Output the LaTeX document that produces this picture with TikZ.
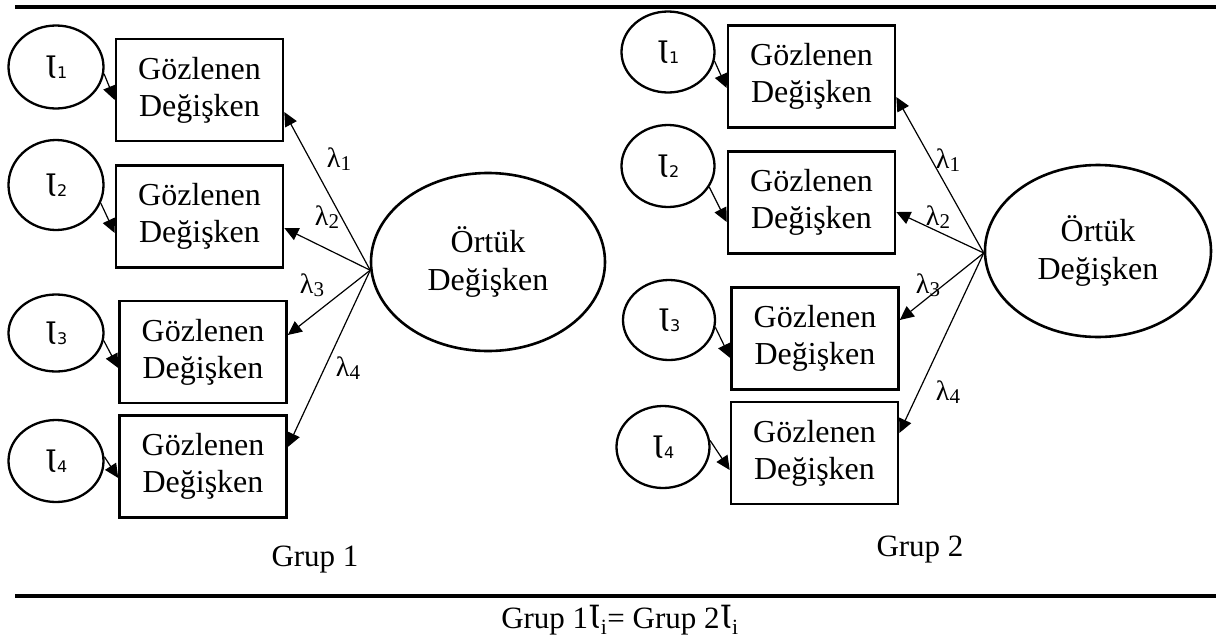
\documentclass[tikz,border=0pt]{standalone}
\usepackage{fontspec}
\setmainfont{Liberation Serif}
\newfontfamily\iotafont{DejaVu Serif}
\newfontfamily\digitfont{DejaVu Sans}
\usetikzlibrary{arrows.meta,shapes.geometric}
\newcommand{\tlab}[1]{{\iotafont\fontsize{31}{31}\selectfont Ɩ\digitfont\fontsize{16}{16}\selectfont #1}}
\newcommand{\llab}[1]{{\fontsize{28}{28}\selectfont λ\raisebox{-3pt}{\fontsize{21}{21}\selectfont #1}}}
\begin{document}
\begin{tikzpicture}[x=1pt,y=-1pt,
  obs/.style={draw, line width=2.6pt, minimum width=167pt, minimum height=102pt, inner sep=0pt, align=center, font=\fontsize{32}{37}\selectfont},
  err/.style={draw, ellipse, line width=2.3pt, minimum width=95pt, inner sep=0pt},
  lat/.style={draw, ellipse, line width=2.6pt, inner sep=0pt, align=center, font=\fontsize{32}{38}\selectfont},
  load/.style={-{Triangle[length=14pt,width=13pt]}, line width=1.2pt},
  lab/.style={inner sep=0pt},
  big/.style={inner sep=0pt, font=\fontsize{31}{37}\selectfont},
  rule/.style={line width=3.2pt}]
\useasboundingbox (0,0) rectangle (1216,643);
\draw[rule] (15,7) -- (1216,7);
\draw[rule] (15,596) -- (1216,596);
% Group 1
\node[err, minimum height=83pt] (at1) at (56,67) {\tlab{1}};
\node[err, minimum height=90pt] (at2) at (56,185) {\tlab{2}};
\node[err, minimum height=77pt] (at3) at (56,333) {\tlab{3}};
\node[err, minimum height=82pt] (at4) at (56,461) {\tlab{4}};
\node[obs] (ar1) at (199.5,90) {Gözlenen\\Değişken};
\node[obs] (ar2) at (199.5,216.5) {Gözlenen\\Değişken};
\node[obs] (ar3) at (203,352) {Gözlenen\\Değişken};
\node[obs] (ar4) at (203,466.5) {Gözlenen\\Değişken};
\node[lat, minimum width=234pt, minimum height=178pt] (aL) at (488,262) {Örtük\\Değişken};
\draw[load] (at1.-8) -- ([yshift=-10pt]ar1.west);
\draw[load] (at2.-22) -- ([yshift=-16.5pt]ar2.west);
\draw[load] (at3.-9) -- ([yshift=-16pt]ar3.west);
\draw[load] (at4.5) -- ([yshift=-11.5pt]ar4.west);
\draw[load] (aL.184) -- ([yshift=-22pt]ar1.east);
\draw[load] (aL.184) -- ([yshift=-11.5pt]ar2.east);
\draw[load] (aL.184) -- ([yshift=17pt]ar3.east);
\draw[load] (aL.184) -- ([yshift=19.5pt]ar4.east);
\node[lab] (al1) at (339,159) {\llab{1}};
\node[lab] (al2) at (327,217) {\llab{2}};
\node[lab] (al3) at (312,285) {\llab{3}};
\node[lab] (al4) at (348,368) {\llab{4}};
\node[big] (g1) at (315,560) {Grup 1};
% Group 2
\node[err, minimum height=81pt, minimum width=93pt] (bt1) at (668,52) {\tlab{1}};
\node[err, minimum height=82pt, minimum width=93pt] (bt2) at (668,166) {\tlab{2}};
\node[err, minimum height=80pt, minimum width=92pt] (bt3) at (669,320) {\tlab{3}};
\node[err, minimum height=82pt, minimum width=93pt] (bt4) at (663,447) {\tlab{4}};
\node[obs] (br1) at (811.5,76.5) {Gözlenen\\Değişken};
\node[obs] (br2) at (811.5,202.5) {Gözlenen\\Değişken};
\node[obs] (br3) at (815,338.5) {Gözlenen\\Değişken};
\node[obs] (br4) at (814.5,453) {Gözlenen\\Değişken};
\node[lat, minimum width=226pt, minimum height=172pt] (bL) at (1098,251) {Örtük\\Değişken};
\draw[load] (bt1.-11) -- ([yshift=-11.5pt]br1.west);
\draw[load] (bt2.-27) -- ([yshift=-19.5pt]br2.west);
\draw[load] (bt3.-9) -- ([yshift=-19.5pt]br3.west);
\draw[load] (bt4.8) -- ([yshift=-17pt]br4.west);
\draw[load] (bL.181) -- ([yshift=-20.5pt]br1.east);
\draw[load] (bL.181) -- ([yshift=-9.5pt]br2.east);
\draw[load] (bL.181) -- ([yshift=18.5pt]br3.east);
\draw[load] (bL.181) -- ([yshift=20pt]br4.east);
\node[lab] (bl1) at (948,160) {\llab{1}};
\node[lab] (bl2) at (938,217) {\llab{2}};
\node[lab] (bl3) at (928,285) {\llab{3}};
\node[lab] (bl4) at (948,392) {\llab{4}};
\node[big] (g2) at (920,550) {Grup 2};
% equation
\node[big] (eq) at (620,620) {Grup 1{\iotafont\fontsize{32}{32}\selectfont Ɩ}\textsubscript{i}= Grup 2{\iotafont\fontsize{32}{32}\selectfont Ɩ}\textsubscript{i}};
\end{tikzpicture}
\end{document}
